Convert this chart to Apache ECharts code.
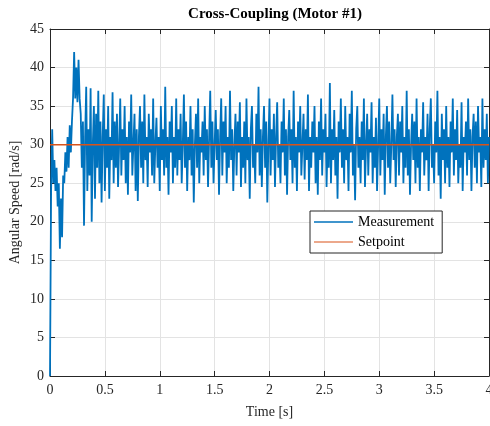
<!DOCTYPE html>
<html>
<head>
<meta charset="utf-8">
<script src="https://cdn.jsdelivr.net/npm/echarts@6/dist/echarts.min.js"></script>
<style>
html,body{margin:0;padding:0;background:#fff;}
#chart{width:490px;height:426px;}
</style>
</head>
<body>
<div id="chart"></div>
<script>
// Data
const chartTitle = 'Cross-Coupling (Motor #1)';
const xAxisTitle = 'Time [s]';
const yAxisTitle = 'Angular Speed [rad/s]';
const xTicks = [0, 0.5, 1, 1.5, 2, 2.5, 3, 3.5, 4];
const yTicks = [0, 5, 10, 15, 20, 25, 30, 35, 40, 45];
const sampleTime = 0.01; // s, spacing of measurement samples
const measurement = [
  0, 24, 32, 25, 28, 24, 27, 22, 25, 16.5, 23, 18, 26, 25, 29, 26.5, 31, 27, 32.5, 29,
  33, 36, 42, 36, 40, 35.5, 41, 36, 34, 27, 33, 19.5, 31, 37.5, 24, 32, 26, 37.3, 20, 30,
  35, 23, 34, 27, 37, 25, 33, 22.5, 31, 36.5, 24, 32, 27, 35, 23, 31, 28, 36.8, 25, 33,
  27, 34, 24.5, 30, 36, 26, 32, 28, 35, 25, 31, 23.5, 33, 29, 36.5, 26, 30, 34, 24, 32,
  22.7, 31, 35, 27, 33, 25, 36.5, 28, 31, 24.5, 34, 29, 32, 26, 36, 25, 30, 33.5, 27, 31,
  24, 35, 28, 32, 26, 37.5, 27, 31, 23.5, 33, 29, 35, 25, 31, 27, 36, 26, 32, 28, 34,
  25, 30, 36.5, 27, 33, 24, 31, 28, 35, 26, 32, 22.5, 30, 34, 27, 36, 25, 31, 29, 33,
  26, 35, 28, 32, 24.5, 31, 37, 27, 33, 25, 30, 34.5, 28, 32, 23.5, 31, 36, 26, 33, 29,
  35, 25, 31, 27, 37, 28, 32, 24, 30, 34, 26, 33, 29, 35.5, 24.5, 31, 27, 33, 25, 36,
  28, 31, 23, 32, 35, 27, 30, 25, 34, 29, 37.5, 26, 32, 24.5, 31, 35, 27, 33, 22.5, 30,
  36, 26, 32, 28, 34, 24.5, 31, 35.5, 27, 30, 25, 33, 29, 36, 26, 32, 23.5, 31, 34.5, 28,
  32, 25, 37, 27, 31, 24, 33, 29, 35, 26, 30, 34, 25.5, 32, 28, 36.5, 24, 31, 27, 33,
  29, 35, 25, 31, 23.5, 33, 28, 36, 26, 32, 29, 34, 24.5, 31, 27, 38, 25, 32, 28, 34.5,
  26, 31, 23, 33, 29, 36, 27, 32, 25, 35, 28, 31, 24, 34, 29, 37, 26, 30, 22.8, 32,
  35, 27, 31, 25, 33, 28, 36, 24.5, 30, 34, 26, 32, 29, 35.5, 25, 31, 27, 33.5, 24, 30,
  36, 26, 32, 28, 34, 23.5, 31, 35, 27, 33, 25, 30, 36.5, 28, 32, 24.5, 31, 34, 26, 33,
  29, 35, 25, 31, 27, 37, 26, 32, 23.5, 30, 34, 28, 33, 25, 36, 27, 31, 24, 32, 29,
  35.5, 26, 31, 28, 34, 24, 32, 36, 27, 30, 25, 33, 29, 37, 26, 31, 23, 34, 28, 32,
  25, 35, 27, 31, 24.5, 33, 29, 36, 26, 32, 28, 34.5, 25, 30, 27, 35.5, 24, 31, 29, 33,
  26, 36, 28, 32, 24, 31, 34, 27, 33, 25, 35, 29, 31, 24.5, 36, 27, 32, 28, 34, 25,
  31
];
const setpointTimes = [0, 4];
const setpointValues = [30, 30];

const measData = measurement.map((v, i) => [+(i * sampleTime).toFixed(2), v]);
const spData = setpointTimes.map((t, i) => [t, setpointValues[i]]);

const axisColor = '#262626';
const font = 'Liberation Serif, Times New Roman, serif';

const chart = echarts.init(document.getElementById('chart'), null, {renderer: 'canvas'});
const xMin = xTicks[0], xMax = xTicks[xTicks.length - 1];
const yMin = yTicks[0], yMax = yTicks[yTicks.length - 1];
const xInt = xTicks[1] - xTicks[0], yInt = yTicks[1] - yTicks[0];

const commonX = {
  type: 'value', min: xMin, max: xMax, interval: xInt,
  axisLine: {show: true, onZero: false, lineStyle: {color: axisColor, width: 1}},
  axisTick: {show: true, inside: true, length: 5, lineStyle: {color: axisColor}}
};
const commonY = {
  type: 'value', min: yMin, max: yMax, interval: yInt,
  axisLine: {show: true, onZero: false, lineStyle: {color: axisColor, width: 1}},
  axisTick: {show: true, inside: true, length: 5, lineStyle: {color: axisColor}}
};

chart.setOption({
  animation: false,
  backgroundColor: '#ffffff',
  title: {
    text: chartTitle, left: 270, top: 2, textAlign: 'center',
    textStyle: {fontFamily: font, fontWeight: 'bold', fontSize: 15, color: '#000'}
  },
  grid: {left: 50, right: 1, top: 29, bottom: 50, containLabel: false, outerBoundsMode: 'none'},
  legend: {
    orient: 'vertical', left: 310, top: 211,
    backgroundColor: '#ffffff', borderColor: axisColor, borderWidth: 1,
    padding: [4, 8, 4, 4], itemGap: 6, itemWidth: 39, itemHeight: 16,
    textStyle: {fontFamily: font, fontSize: 14, color: '#000'},
    data: [
      {name: 'Measurement', icon: 'path://M0,7.2H39V8.8H0Z', itemStyle: {color: '#0072BD'}},
      {name: 'Setpoint', icon: 'path://M0,7.4H39V8.6H0Z', itemStyle: {color: '#D95319'}}
    ]
  },
  xAxis: [
    Object.assign({}, commonX, {
      position: 'bottom',
      name: xAxisTitle, nameLocation: 'middle', nameGap: 29, nameMoveOverlap: false,
      nameTextStyle: {fontFamily: font, fontSize: 14, color: axisColor},
      axisLabel: {fontFamily: font, fontSize: 14, color: axisColor, margin: 7},
      splitLine: {show: true, lineStyle: {color: '#e3e3e3', width: 1}}
    }),
    Object.assign({}, commonX, {
      position: 'top', axisLabel: {show: false}, splitLine: {show: false}
    })
  ],
  yAxis: [
    Object.assign({}, commonY, {
      position: 'left',
      name: yAxisTitle, nameLocation: 'middle', nameGap: 28, nameMoveOverlap: false,
      nameTextStyle: {fontFamily: font, fontSize: 14, color: axisColor},
      axisLabel: {fontFamily: font, fontSize: 14, color: axisColor, margin: 6},
      splitLine: {show: true, lineStyle: {color: '#e3e3e3', width: 1}}
    }),
    Object.assign({}, commonY, {
      position: 'right', axisLabel: {show: false}, splitLine: {show: false}
    })
  ],
  series: [
    {
      name: 'Measurement', type: 'line', data: measData,
      xAxisIndex: 0, yAxisIndex: 0,
      symbol: 'none', showSymbol: false,
      lineStyle: {color: '#0072BD', width: 1.8},
      itemStyle: {color: '#0072BD'}
    },
    {
      name: 'Setpoint', type: 'line', data: spData,
      xAxisIndex: 0, yAxisIndex: 0,
      symbol: 'none', showSymbol: false,
      lineStyle: {color: '#D95319', width: 1.5},
      itemStyle: {color: '#D95319'}
    }
  ]
});
</script>
</body>
</html>
